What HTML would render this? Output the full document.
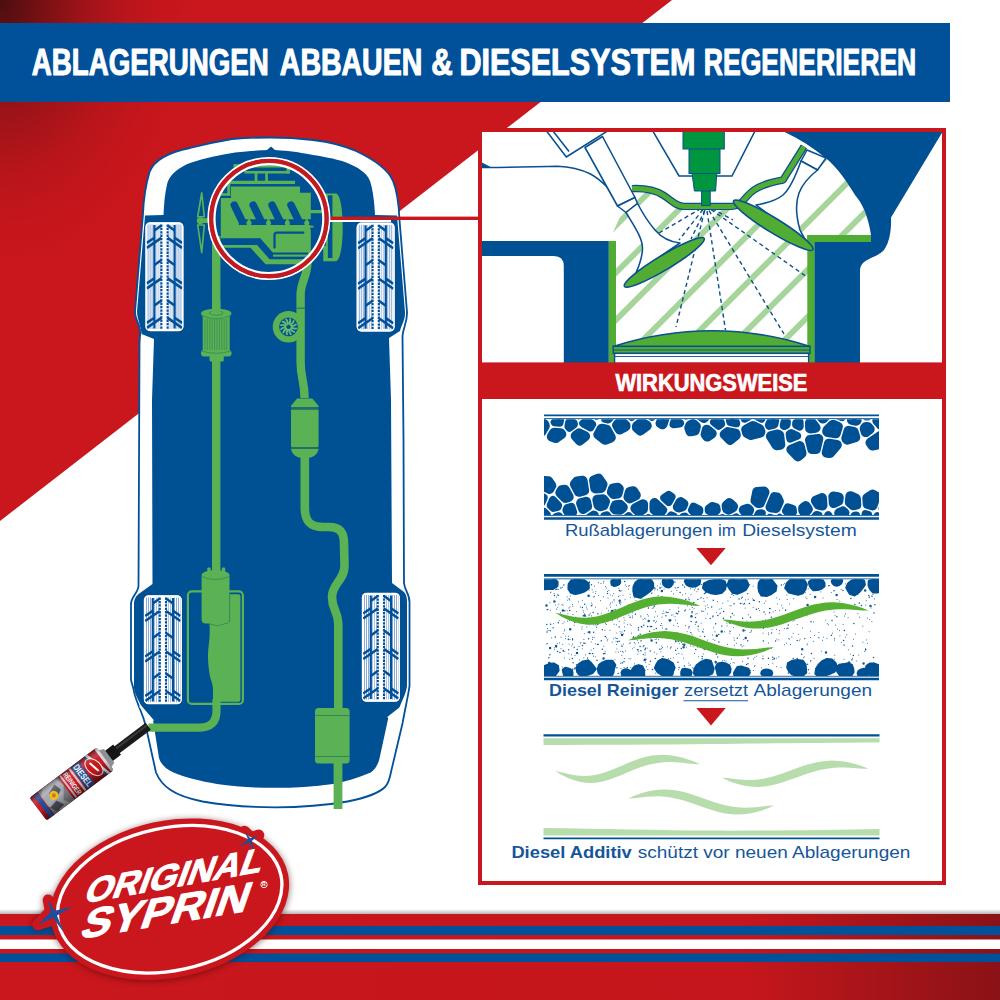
<!DOCTYPE html>
<html lang="de">
<head>
<meta charset="utf-8">
<title>Ablagerungen abbauen &amp; Dieselsystem regenerieren</title>
<style>
html,body{margin:0;padding:0;background:#fff;}
body{width:1000px;height:1000px;overflow:hidden;font-family:"Liberation Sans",sans-serif;}
svg{display:block;}
text{font-family:"Liberation Sans",sans-serif;}
</style>
</head>
<body>
<svg width="1000" height="1000" viewBox="0 0 1000 1000">
<defs>
  <radialGradient id="bgRed" gradientUnits="userSpaceOnUse" cx="0" cy="0" r="270" gradientTransform="scale(0.72,1)">
    <stop offset="0" stop-color="#4c0e0e"/>
    <stop offset="0.2" stop-color="#741013"/>
    <stop offset="0.42" stop-color="#9d1318"/>
    <stop offset="0.65" stop-color="#b9151b"/>
    <stop offset="0.85" stop-color="#c5161c"/>
    <stop offset="1" stop-color="#c9171d"/>
  </radialGradient>
  <linearGradient id="stripeRed" x1="0" y1="0" x2="1" y2="0">
    <stop offset="0" stop-color="#c9171d"/>
    <stop offset="0.75" stop-color="#c4161c"/>
    <stop offset="1" stop-color="#8a1216"/>
  </linearGradient>
  <linearGradient id="stripeShadow" x1="0" y1="0" x2="0" y2="1">
    <stop offset="0" stop-color="#000" stop-opacity="0"/>
    <stop offset="1" stop-color="#000" stop-opacity="0.28"/>
  </linearGradient>
  <pattern id="tyreFine" width="2" height="4" patternUnits="userSpaceOnUse">
    <rect width="2" height="4" fill="#fff"/><rect x="0" width="0.9" height="4" fill="#7aa2d3"/>
  </pattern>
    <clipPath id="engClip"><rect x="482" y="132" width="460" height="231"/></clipPath>
  <clipPath id="hatchClip">
    <path d="M609,241 L633,188.6 C645,188 655,190 663,195 C672,200.5 676,206.4 684,206.4 H732 C742,206.4 745,196 754,190 C762,184.5 772,182 783,180 L804,146.5 C812,147 820,152 825,157.5 C838,168 847,182 855,195 C862,203 868,215 871,235 L871,236 H808 V350 H616 V241 Z"/>
  </clipPath>
  <linearGradient id="canRed" x1="0" y1="0" x2="1" y2="0">
    <stop offset="0" stop-color="#8e1219"/><stop offset="0.25" stop-color="#c8202b"/><stop offset="0.6" stop-color="#c41c27"/><stop offset="1" stop-color="#7d1016"/>
  </linearGradient>
  <linearGradient id="canShade" x1="0" y1="0" x2="1" y2="0">
    <stop offset="0" stop-color="#000" stop-opacity="0.35"/><stop offset="0.22" stop-color="#fff" stop-opacity="0.12"/><stop offset="0.55" stop-color="#000" stop-opacity="0"/><stop offset="1" stop-color="#000" stop-opacity="0.4"/>
  </linearGradient>
  <filter id="softShadow" x="-20%" y="-20%" width="140%" height="140%"><feGaussianBlur stdDeviation="3.5"/></filter>
  <clipPath id="d2clip"><rect x="544" y="579.2" width="335" height="96.7"/></clipPath>
  <clipPath id="d1clip"><rect x="544" y="419.2" width="335" height="95.8"/></clipPath>
  <!--DEFS-->
</defs>

<!-- ===== background ===== -->
<rect width="1000" height="1000" fill="#fff"/>
<polygon points="0,0 672,0 0,521" fill="url(#bgRed)"/>

<!-- ===== header bar ===== -->
<rect x="0" y="23" width="950" height="79" fill="#00509a"/>
<g font-size="36" font-weight="bold" fill="#fff" stroke="#fff" stroke-width="1.1" stroke-linejoin="round">
  <text x="31.8" y="75" textLength="237" lengthAdjust="spacingAndGlyphs">ABLAGERUNGEN</text>
  <text x="279.8" y="75" textLength="142.5" lengthAdjust="spacingAndGlyphs">ABBAUEN</text>
  <text x="431.3" y="75" textLength="21.5" lengthAdjust="spacingAndGlyphs">&amp;</text>
  <text x="459.4" y="75" textLength="236" lengthAdjust="spacingAndGlyphs">DIESELSYSTEM</text>
  <text x="703.8" y="75" textLength="212.5" lengthAdjust="spacingAndGlyphs">REGENERIEREN</text>
</g>

<!-- ===== bottom stripes ===== -->
<g id="stripes">
  <rect x="0" y="909" width="1000" height="5" fill="url(#stripeShadow)"/>
  <rect x="0" y="914" width="1000" height="86" fill="url(#stripeRed)"/>
  <rect x="0" y="926" width="1000" height="9" fill="#00509a"/>
  <rect x="0" y="939.5" width="1000" height="9.5" fill="#fff"/>
  <rect x="0" y="953.5" width="1000" height="8.5" fill="#00509a"/>
</g>

<!-- ===== CAR ===== -->
<g id="car">
  <!-- outer white body with blue outline -->
  <path d="M270,137.5 C290,137.5 302,138.7 313,140 C330,142 345,146 356,151 C375,160 388,169 393,181 C398,193 399,208 399.5,220 L407,312 C407.5,322 403,328 402.5,336 L403.5,440 L404,583 C404.5,590 409.5,594 409.5,602 L409.5,686 C408,697 405,709 402.6,723 L391,772 C389.5,780 388,784 385,787 C378,794 365,798 347.5,801.5 C325,805.5 300,807.3 275,807.3 C250,807.3 225,805.5 202.5,801.5 C188,798.5 178,795 170.6,790 C163,785 159,780 156,772.5 L145.5,725 C143,715 140,710 138,704 C136,699 134,694 133.5,689 L131,680 L131,604 C131,597 138,593 138.5,586 L139.5,345 C139.5,338 140.5,336 140,330 C139,322 135,320 135,312 L143,214 C143.5,200 146,184 149.5,172 C154,160 170,152 190,148 C205,144 220,141 232,139 C245,138 258,137.5 270,137.5 Z" fill="#fff" stroke="#00509a" stroke-width="1.8" stroke-linejoin="round"/>
  <!-- inner blue body -->
  <path d="M271,146.5 L275,150 C290,151 300,152.5 308,154 C322,156.5 335,158.5 345,162 C358,167 367,173 370,181 C373,190 374.5,203 375,215 L397,215.5 L405,312 C405.5,320 401,326 400,331 L389,338 L391,400 L392,583 L404,592 C406,594 407,597 407,602 L407,686 C406,694 402,700 399,709 L388.5,717 L379.6,758 C378,765 375,769.5 370.7,772.5 C358,778 345,781.5 333,784 C314,787 294,787.8 275,787.8 C256,787.8 236,787 217,784 C200,781 185,777.5 173.5,772.5 C167,769.5 161,765 159,758 L153,720 L142.5,708.5 C140,702 135,696 134,688 L134,604 C134,598 137,595 140,593 L152.5,584 L152,400 L154,339 L141.5,334 C141,326 137.5,320 137,312 L145,215.5 L163.5,215 C164,203 165,192 167.5,182.5 C171,173 180,167 190,163 C205,158 220,155 235,152.5 C248,151 260,150.5 267,150 Z" fill="#005094"/>
  <!-- white separators rear arches -->
  <path d="M140,706 L153,721" stroke="#fff" stroke-width="2.4" fill="none"/>
  <path d="M402,707 L388,718" stroke="#fff" stroke-width="2.4" fill="none"/>

  <!-- tyres -->
  <g transform="translate(145.6,222.4)">
    <rect x="0" y="0" width="37.7" height="108.6" rx="4.5" ry="4.5" fill="#fff"/>
    <rect x="1.2" y="2" width="7" height="104.6" fill="url(#tyreFine)"/>
    <rect x="29.5" y="2" width="7" height="104.6" fill="url(#tyreFine)"/>
    <rect x="9.6" y="2" width="6" height="104.6" fill="url(#tyreFine)" opacity="0.7"/>
    <rect x="22.2" y="2" width="6" height="104.6" fill="url(#tyreFine)" opacity="0.7"/>
    <g stroke="#00509a" fill="none">
      <path d="M8.8,2.5 V106 M29,2.5 V106" stroke-width="2.2"/>
      <path d="M15.8,2 V106.6 M22,2 V106.6" stroke-width="2.1" stroke-dasharray="2.3 1.1"/>
      <g stroke-width="2.5">
        <path d="M1.2,25.5 L15.8,15.5 M36.5,25.5 L22,15.5"/>
        <path d="M1.2,20.5 L8.8,15.3 M36.5,20.5 L29,15.3"/>
        <path d="M8.8,42.5 L15.8,37.5 M29,42.5 L22,37.5"/>
        <path d="M1.2,66 L15.8,56 M36.5,66 L22,56"/>
        <path d="M1.2,61 L8.8,55.8 M36.5,61 L29,55.8"/>
        <path d="M8.8,83 L15.8,78 M29,83 L22,78"/>
        <path d="M1.2,105.5 L15.8,95.5 M36.5,105.5 L22,95.5"/>
        <path d="M1.2,100.5 L8.8,95.3 M36.5,100.5 L29,95.3"/>
        <path d="M8.8,8 L15.8,3 M29,8 L22,3" />
      </g>
    </g>
    <rect x="0.4" y="0.4" width="36.9" height="107.8" rx="4.2" ry="4.2" fill="none" stroke="#fff" stroke-width="1.2"/>
  </g>
  <g transform="translate(356.8,222.8)">
    <rect x="0" y="0" width="37.7" height="108.6" rx="4.5" ry="4.5" fill="#fff"/>
    <rect x="1.2" y="2" width="7" height="104.6" fill="url(#tyreFine)"/>
    <rect x="29.5" y="2" width="7" height="104.6" fill="url(#tyreFine)"/>
    <rect x="9.6" y="2" width="6" height="104.6" fill="url(#tyreFine)" opacity="0.7"/>
    <rect x="22.2" y="2" width="6" height="104.6" fill="url(#tyreFine)" opacity="0.7"/>
    <g stroke="#00509a" fill="none">
      <path d="M8.8,2.5 V106 M29,2.5 V106" stroke-width="2.2"/>
      <path d="M15.8,2 V106.6 M22,2 V106.6" stroke-width="2.1" stroke-dasharray="2.3 1.1"/>
      <g stroke-width="2.5">
        <path d="M1.2,25.5 L15.8,15.5 M36.5,25.5 L22,15.5"/>
        <path d="M1.2,20.5 L8.8,15.3 M36.5,20.5 L29,15.3"/>
        <path d="M8.8,42.5 L15.8,37.5 M29,42.5 L22,37.5"/>
        <path d="M1.2,66 L15.8,56 M36.5,66 L22,56"/>
        <path d="M1.2,61 L8.8,55.8 M36.5,61 L29,55.8"/>
        <path d="M8.8,83 L15.8,78 M29,83 L22,78"/>
        <path d="M1.2,105.5 L15.8,95.5 M36.5,105.5 L22,95.5"/>
        <path d="M1.2,100.5 L8.8,95.3 M36.5,100.5 L29,95.3"/>
        <path d="M8.8,8 L15.8,3 M29,8 L22,3" />
      </g>
    </g>
    <rect x="0.4" y="0.4" width="36.9" height="107.8" rx="4.2" ry="4.2" fill="none" stroke="#fff" stroke-width="1.2"/>
  </g>
  <g transform="translate(144,595.5)">
    <rect x="0" y="0" width="37.7" height="108.6" rx="4.5" ry="4.5" fill="#fff"/>
    <rect x="1.2" y="2" width="7" height="104.6" fill="url(#tyreFine)"/>
    <rect x="29.5" y="2" width="7" height="104.6" fill="url(#tyreFine)"/>
    <rect x="9.6" y="2" width="6" height="104.6" fill="url(#tyreFine)" opacity="0.7"/>
    <rect x="22.2" y="2" width="6" height="104.6" fill="url(#tyreFine)" opacity="0.7"/>
    <g stroke="#00509a" fill="none">
      <path d="M8.8,2.5 V106 M29,2.5 V106" stroke-width="2.2"/>
      <path d="M15.8,2 V106.6 M22,2 V106.6" stroke-width="2.1" stroke-dasharray="2.3 1.1"/>
      <g stroke-width="2.5">
        <path d="M1.2,25.5 L15.8,15.5 M36.5,25.5 L22,15.5"/>
        <path d="M1.2,20.5 L8.8,15.3 M36.5,20.5 L29,15.3"/>
        <path d="M8.8,42.5 L15.8,37.5 M29,42.5 L22,37.5"/>
        <path d="M1.2,66 L15.8,56 M36.5,66 L22,56"/>
        <path d="M1.2,61 L8.8,55.8 M36.5,61 L29,55.8"/>
        <path d="M8.8,83 L15.8,78 M29,83 L22,78"/>
        <path d="M1.2,105.5 L15.8,95.5 M36.5,105.5 L22,95.5"/>
        <path d="M1.2,100.5 L8.8,95.3 M36.5,100.5 L29,95.3"/>
        <path d="M8.8,8 L15.8,3 M29,8 L22,3" />
      </g>
    </g>
    <rect x="0.4" y="0.4" width="36.9" height="107.8" rx="4.2" ry="4.2" fill="none" stroke="#fff" stroke-width="1.2"/>
  </g>
  <g transform="translate(362,593)">
    <rect x="0" y="0" width="37.7" height="108.6" rx="4.5" ry="4.5" fill="#fff"/>
    <rect x="1.2" y="2" width="7" height="104.6" fill="url(#tyreFine)"/>
    <rect x="29.5" y="2" width="7" height="104.6" fill="url(#tyreFine)"/>
    <rect x="9.6" y="2" width="6" height="104.6" fill="url(#tyreFine)" opacity="0.7"/>
    <rect x="22.2" y="2" width="6" height="104.6" fill="url(#tyreFine)" opacity="0.7"/>
    <g stroke="#00509a" fill="none">
      <path d="M8.8,2.5 V106 M29,2.5 V106" stroke-width="2.2"/>
      <path d="M15.8,2 V106.6 M22,2 V106.6" stroke-width="2.1" stroke-dasharray="2.3 1.1"/>
      <g stroke-width="2.5">
        <path d="M1.2,25.5 L15.8,15.5 M36.5,25.5 L22,15.5"/>
        <path d="M1.2,20.5 L8.8,15.3 M36.5,20.5 L29,15.3"/>
        <path d="M8.8,42.5 L15.8,37.5 M29,42.5 L22,37.5"/>
        <path d="M1.2,66 L15.8,56 M36.5,66 L22,56"/>
        <path d="M1.2,61 L8.8,55.8 M36.5,61 L29,55.8"/>
        <path d="M8.8,83 L15.8,78 M29,83 L22,78"/>
        <path d="M1.2,105.5 L15.8,95.5 M36.5,105.5 L22,95.5"/>
        <path d="M1.2,100.5 L8.8,95.3 M36.5,100.5 L29,95.3"/>
        <path d="M8.8,8 L15.8,3 M29,8 L22,3" />
      </g>
    </g>
    <rect x="0.4" y="0.4" width="36.9" height="107.8" rx="4.2" ry="4.2" fill="none" stroke="#fff" stroke-width="1.2"/>
  </g>
  <!-- ===== green systems ===== -->
  <g id="systems" fill="#5ab254" stroke="none">
    <!-- fuel line -->
    <rect x="212" y="236" width="8.4" height="338"/>
    <!-- fuel filter -->
    <rect x="209.5" y="355" width="14.3" height="6.5" rx="1.5"/>
    <rect x="201" y="350" width="30.5" height="6.5" rx="3"/>
    <rect x="202.7" y="314" width="27" height="38"/>
    <g stroke="#3f8f52" stroke-width="0.9">
      <path d="M205,319V350 M207.4,319V350 M209.8,319V350 M212.2,319V350 M214.6,319V350 M217,319V350 M219.4,319V350 M221.8,319V350 M224.2,319V350 M226.6,319V350"/>
    </g>
    <ellipse cx="216.2" cy="313.5" rx="15.2" ry="4.8"/>
    <ellipse cx="216.2" cy="313" rx="6.8" ry="2.2" fill="none" stroke="#2f8a55" stroke-width="0.8"/>
    <path d="M201.3,315.5 Q216,322 231.2,315.5" fill="none" stroke="#2f8a55" stroke-width="0.8"/>
    <path d="M201.5,351 Q216,355.5 231,351" fill="none" stroke="#2f8a55" stroke-width="0.8"/>
    <rect x="212" y="300" width="8.4" height="14"/>

    <!-- exhaust: engine to cat -->
    <path d="M307.5,258 C308.5,276 301,280 300.6,294 L300.6,362 C300.6,378 304.5,381 304.6,398" fill="none" stroke="#5ab254" stroke-width="8.4"/>
    <!-- turbo -->
    
    <circle cx="288.5" cy="326.8" r="15.8"/>
    <circle cx="288.5" cy="326.8" r="9.4" fill="#005094"/>
    <g transform="translate(288.5,326.8)" fill="none" stroke="#6fbf6a" stroke-width="1.7" stroke-linecap="round"><path d="M0,-2.9 Q2.6,-4.6 1.6,-7.7" transform="rotate(0)"/><path d="M0,-2.9 Q2.6,-4.6 1.6,-7.7" transform="rotate(30)"/><path d="M0,-2.9 Q2.6,-4.6 1.6,-7.7" transform="rotate(60)"/><path d="M0,-2.9 Q2.6,-4.6 1.6,-7.7" transform="rotate(90)"/><path d="M0,-2.9 Q2.6,-4.6 1.6,-7.7" transform="rotate(120)"/><path d="M0,-2.9 Q2.6,-4.6 1.6,-7.7" transform="rotate(150)"/><path d="M0,-2.9 Q2.6,-4.6 1.6,-7.7" transform="rotate(180)"/><path d="M0,-2.9 Q2.6,-4.6 1.6,-7.7" transform="rotate(210)"/><path d="M0,-2.9 Q2.6,-4.6 1.6,-7.7" transform="rotate(240)"/><path d="M0,-2.9 Q2.6,-4.6 1.6,-7.7" transform="rotate(270)"/><path d="M0,-2.9 Q2.6,-4.6 1.6,-7.7" transform="rotate(300)"/><path d="M0,-2.9 Q2.6,-4.6 1.6,-7.7" transform="rotate(330)"/></g>
    <path d="M296.6,308.2 H304.7" stroke="#005094" stroke-width="0.8"/>
    <!-- catalytic converter -->
    <path d="M297.5,399.2 H312 L317.8,406.2 H291.7 Z" stroke="#5ab254" stroke-width="1.6" stroke-linejoin="round"/>
    <rect x="291" y="409.4" width="27.6" height="37.6" rx="1.2"/><path d="M291,408.2H318.6 M291,448H318.6" stroke="#1f6f6a" stroke-width="2.2"/>
    <path d="M291,449 H318.6 Q317.5,455 311,457.6 H298.6 Q292,455 291,449 Z"/>
    <!-- exhaust mid pipe -->
    <path d="M304.8,455 L304.8,508 C304.8,522 311,527 323,527 L329,527 C339,527 344,532 344,543 L344.5,566 C344.5,580 332,584 332,597 C332,610 338.3,611 338.3,624 L338.3,710" fill="none" stroke="#5ab254" stroke-width="8.6"/>
    <!-- muffler -->
    <rect x="315" y="708" width="34.6" height="55.5" rx="3.5"/>
    <path d="M315.3,715.5 H349.3 M315.3,756.5 H349.3" stroke="#2f7f5e" stroke-width="0.9"/>
    <rect x="333.6" y="762" width="8.8" height="47"/>

    <!-- tank -->
    <rect x="187.9" y="591.4" width="55" height="112.5" rx="4" fill="none" stroke="#5ab254" stroke-width="2.2"/>
    <path d="M229.5,594.2 H238.5 Q240.4,594.2 240.4,596 V699.5 Q240.4,701.8 238.5,701.8 H213 V690 C213,683 210.5,680 209.7,675 C208.5,667 207.7,660 208,653.5 C208.4,646 209.7,640 209.7,632 L209.7,622 H229.5 Z"/>
    <!-- pump -->
    <rect x="213" y="560" width="6.8" height="14"/>
    <rect x="207.3" y="567.5" width="3.4" height="6" rx="1"/>
    <rect x="221.8" y="567.5" width="3.4" height="6" rx="1"/>
    <path d="M201.6,575 C201.6,568.5 229.5,568.5 229.5,575 L229.5,619.5 Q229.5,623.5 225.5,623.5 H205.6 Q201.6,623.5 201.6,619.5 Z"/><path d="M229.6,594 V619.5 Q229.5,623.6 225.5,623.6 H205.6" fill="none" stroke="#2f8a55" stroke-width="0.8"/>
    <path d="M201.8,576.5 Q215.5,582.5 229.3,576.5" fill="none" stroke="#2f8a55" stroke-width="0.8"/>
    <path d="M209.7,622 H224 V626 Q224,630 217,630 Q209.7,630 209.7,626 Z"/>
    <path d="M210,624.2 Q217,627.2 223.8,624.2" fill="none" stroke="#2f8a55" stroke-width="0.8"/>
    <!-- filler hose -->
    <path d="M216.5,699 L216.5,711 C216.5,722.5 210,727.6 200,727.6 L148.5,727.6" fill="none" stroke="#5ab254" stroke-width="8.2"/>
  </g>

  <!-- ===== engine (drawn in 150px -> 1000 zoom coords) ===== -->
  <g id="engine" transform="translate(195,150) scale(0.15)">
    <g fill="#5ab254">
      <!-- fan -->
      <path d="M45,285 L18,445 L62,445 Z M45,685 L18,500 L62,500 Z" fill="none" stroke="#5ab254" stroke-width="11" stroke-linejoin="round"/>
      <circle cx="35" cy="471" r="23"/>
      <rect x="35" y="455" width="90" height="32"/>
      <!-- top pipes -->
      <rect x="258" y="95" width="374" height="22"/>
      <rect x="258" y="95" width="20" height="32"/>
      <rect x="610" y="95" width="22" height="62"/>
      <rect x="330" y="140" width="300" height="17"/>
      <rect x="398" y="150" width="18" height="65"/>
      <rect x="468" y="150" width="18" height="65"/>
      <rect x="215" y="205" width="452" height="22"/>
      <rect x="215" y="205" width="20" height="100"/>
      <rect x="172" y="288" width="63" height="17"/>
      <!-- block -->
      <path d="M172,320 H240 V243 H700 V285 H772 V400 H870 V422 H772 V762 H470 L370,652 H172 Z"/>
      <!-- alternator -->
      <path d="M855,290 H940 C1000,300 1000,730 940,742 H855 V640 H872 V400 H855 Z"/>
    </g>
    <g fill="#005094" stroke="#005094">
      <rect x="886" y="302" width="30" height="418" stroke="none"/>
      <g stroke-width="50" stroke-linecap="round" fill="none">
        <path d="M262,368 L312,470"/><path d="M388,368 L438,470"/><path d="M514,368 L564,470"/><path d="M640,368 L690,470"/>
      </g>
      <rect x="292" y="462" width="500" height="38" stroke="none"/>
      <rect x="770" y="480" width="22" height="52" stroke="none"/>
      <path d="M530,650 V566 Q530,550 546,550 H722" fill="none" stroke-width="15" stroke-linecap="round"/>
      <path d="M172,611 L425,611 L508,706 L755,706" fill="none" stroke-width="46" stroke-linejoin="miter"/>
    </g>
    <g fill="#5ab254">
      <circle cx="360" cy="487" r="17"/><circle cx="490" cy="487" r="17"/><circle cx="616" cy="487" r="17"/><circle cx="745" cy="487" r="17"/>
      <rect x="352" y="462" width="16" height="20"/><rect x="482" y="462" width="16" height="20"/><rect x="608" y="462" width="16" height="20"/><rect x="737" y="462" width="16" height="20"/>
      <rect x="760" y="505" width="30" height="12"/>
      <rect x="520" y="697" width="240" height="14"/>
    </g>
  </g>

  <!-- highlight circle + connector -->
  <g fill="none">
    <rect x="329" y="216.6" width="152" height="3.4" fill="#c9171d"/>
    <rect x="329" y="220" width="62" height="2" fill="#fff"/>
    <circle cx="268.9" cy="218.6" r="60.6" stroke="#fff" stroke-width="1.8"/>
    <circle cx="268.9" cy="218.6" r="57.6" stroke="#c9171d" stroke-width="4.3"/>
    <circle cx="268.9" cy="218.6" r="54.4" stroke="#fff" stroke-width="2.2"/>
  </g>
  <!--CARPARTS-->
</g>


<!-- ===== RIGHT PANEL ===== -->
<g id="panel">
  <rect x="478" y="128" width="468" height="757" fill="#c9171d"/>
  <rect x="482" y="132" width="460" height="749" fill="#fff"/>
  <g clip-path="url(#engClip)">
    <!-- hatching -->
    <g clip-path="url(#hatchClip)" stroke="#a6d59c" stroke-width="5.8" fill="none">
      <path d="M441.4,400 L741.4,100 M488.6,400 L788.6,100 M535.8,400 L835.8,100 M583,400 L883,100 M630.2,400 L930.2,100 M677.4,400 L977.4,100 M724.6,400 L1024.6,100 M771.8,400 L1071.8,100 M819,400 L1119,100"/>
    </g>
    <!-- cylinder walls -->
    <rect x="608.5" y="241" width="7.5" height="122" fill="#50ac32"/>
    <rect x="807.3" y="235" width="7.5" height="128" fill="#50ac32"/>
    <rect x="807.3" y="235" width="64" height="7.2" fill="#50ac32"/>
    <!-- spray -->
    <g stroke="#0a4f8f" stroke-width="1.4" fill="none" stroke-dasharray="4.2 3.2">
      <path d="M701,208.5 L659,233"/>
      <path d="M703,209.5 L679,240"/>
      <path d="M705,210 L691,239"/>
      <path d="M704.5,211 L676,327"/>
      <path d="M707,211 L725.5,330"/>
      <path d="M709,210.5 L784,334"/>
      <path d="M711,209.5 L807,277"/>
      <path d="M712,208.5 L733,220"/>
    </g>
    <!-- piston -->
    <path d="M613.2,346.4 Q712,315 810,346.4 Z" fill="#50ac32" stroke="#0a4f8f" stroke-width="1.55" stroke-linejoin="round"/>
    <rect x="613.2" y="346.4" width="196.8" height="7" fill="#50ac32" stroke="#0a4f8f" stroke-width="1.4"/>
    <path d="M613.2,350 H810" stroke="#0a4f8f" stroke-width="0.9"/>
    <rect x="614.6" y="353.4" width="194" height="10" fill="#fff" stroke="#0a4f8f" stroke-width="1.4"/>
    <path d="M614.6,356.5 H808.6" stroke="#0a4f8f" stroke-width="0.9"/>
    <!-- chamber roof -->
    <g fill="none" stroke-linecap="butt" stroke-linejoin="round">
      <path id="roofL" d="M632,188.6 C645,188 655,190 663,195 C672,200.5 676,206.4 684,206.4 H732 C742,206.4 745,196 754,190 C762,184.5 772,182 783,180 L804,146.5" stroke="#0a4f8f" stroke-width="7.4"/>
      <path d="M632,188.6 C645,188 655,190 663,195 C672,200.5 676,206.4 684,206.4 H732 C742,206.4 745,196 754,190 C762,184.5 772,182 783,180 L804,146.5" stroke="#50ac32" stroke-width="5"/>
    </g>
    <!-- injector holder -->
    <path d="M652.8,131 L679,176 H732 L755,131 Z" fill="#fff" stroke="#0a4f8f" stroke-width="1.55"/>
    <!-- injector -->
    <g fill="#009640" stroke="#0a4f8f" stroke-width="1">
      <rect x="701.6" y="190" width="8.6" height="15.6"/>
      <path d="M692,173 H716.8 L715.6,191 H694.4 Z"/>
      <rect x="689" y="148.5" width="31" height="25"/>
      <rect x="683" y="130" width="41.3" height="19"/>
    </g>
    <!-- intake port outline -->
    <path d="M482,167.4 C510,167.6 535,166.6 557.5,166.3 C572,167 582,170 590,173.8 C597,177.5 602,182 606.3,186.3 C611,192 614,198 617.5,205" fill="none" stroke="#0a4f8f" stroke-width="1.55"/>
    <path d="M482,162.5 L491.5,167.5 L482,167.8 Z" fill="#005094"/>
    <!-- left valve: spring box, stem, collar, tulip, disc -->
    <g fill="#fff" stroke="#0a4f8f" stroke-width="1.55" stroke-linejoin="round">
      <path d="M546.5,131 L566.3,157 L607.5,131"/>
      <path d="M553,131 L569,151.5" fill="none"/>
      <path d="M585,147.5 L602.5,136.5 L635,197.5 L617.5,206 Z"/>
      <path d="M617.5,206 L635,197.5 L637.5,203.5 L626,212.5 Z"/>
      <path d="M626,212.5 C634,226 642.5,238 642.5,248 C642.5,258 639,266 636,273 L680,243 C670,242 661,237 655,230 C648,222 642,212 637.5,203.5 Z"/>
      <ellipse cx="664.3" cy="262.4" rx="46.5" ry="7.3" transform="rotate(-31 664.3 262.4)" fill="#50ac32" stroke-width="1.6"/>
    </g>
    <!-- right valve -->
    <g fill="#fff" stroke="#0a4f8f" stroke-width="1.55" stroke-linejoin="round">
      <path d="M801,161 L817.5,170 L826,158 L807,150 Z"/>
      <path d="M756,205 C768,203 777,200 783,195 C790,189 796,175 801,161 L817.5,170 C810,176 802,185 799,193 C795,204 796,216 800,230 C803,237 806,241 810,245 Z"/>
      <ellipse cx="773.2" cy="225.2" rx="46.5" ry="7.3" transform="rotate(31.6 773.2 225.2)" fill="#50ac32" stroke-width="1.6"/>
    </g>
    <!-- blue solids -->
    <path d="M482,241 H608.7 V363 H563.8 V266 Q563.8,256 553.8,256 H482 Z" fill="#005094"/>
    <path d="M782.5,131 H943 L891,217.5 C891.5,228 890,242 884,250 C879,256 868,258 863,263 C860.5,266 860,268 860,271 V363 H814.6 V242 H871 V235 C868,215 862,203 855,195 C847,182 838,168 825,157.5 C812,147 798,138 782.5,131 Z" fill="#005094"/>
  </g>
  <!-- red band -->
  <rect x="482" y="362.4" width="460" height="36.6" fill="#c9171d"/>
  <text x="615.4" y="391" font-size="24.4" font-weight="bold" fill="#fff" stroke="#fff" stroke-width="0.7" textLength="192" lengthAdjust="spacingAndGlyphs">WIRKUNGSWEISE</text>
  <!--P2START-->
  <!-- diagram 1 -->
  <g id="dia1">
    <path d="M544,415.4H879" stroke="#005094" stroke-width="1.9"/>
    <path d="M544,418.6H879" stroke="#005094" stroke-width="0.9"/>
    <path d="M544,515.6H879" stroke="#005094" stroke-width="0.9"/>
    <path d="M544,518.4H879" stroke="#005094" stroke-width="2.5"/>
    <g clip-path="url(#d1clip)" fill="#005094" stroke="#005094" stroke-linejoin="round"><path d="M887,416.5 887,411 884.5,411ZM536,518.4 536,523.2 538,523.2Z" stroke-width="2.6"/><path d="M583.3,412.8 577.8,412.7 577.5,415.3 578.6,416.3ZM790.6,414.3 792.2,415.4 795.5,413.9 795.4,412.7 790.8,412.7ZM803,414 804.5,415 809.4,412.7 802.8,412.7ZM565.3,412.7 566.6,414.2 570.2,413.6 570.4,412.7ZM622,414 622,412.7 617.9,412.7 618.4,414.1ZM779.7,412.7 781.2,413.9 783.3,413.2 783.3,412.7ZM721.1,412.7 723.7,414.1 724.7,412.7ZM779.8,521.5 785.9,521.5 779.7,516.7ZM795,521.5 803,521.5 798.2,518.9ZM772.2,517.3 769.7,516.7 768.4,521.5 772.4,521.5ZM618.7,519.1 615.9,519 615.4,521.5 619,521.5Z" stroke-width="6.0"/><path d="M590.5,427.4 592.2,424.4 587.1,420.4 583.2,423.4ZM841.8,417.2 843.3,413.7 835.8,413.7 836,414.7ZM866.3,416.6 867.7,416.6 869.5,413.7 865.2,413.7ZM673.5,424.2 679.9,423.5 680.1,423.1 675,419.6ZM763.8,413.7 757.8,413.7 757.7,416.7 761.5,418.6ZM605.2,418.8 608.3,419.5 610.5,416.9 609.3,413.7 606.5,413.7ZM744.6,418.7 748.3,416.8 748.4,413.7 743,413.7ZM784.4,426.1 786.6,424.9 786.9,421.9 785.9,421.2 784.5,421.7 783.7,425.8ZM720.6,422 715.7,419.3 714,422.1 718.7,425.8 721.1,424.1ZM554.7,422.3 559.6,422.7 560.1,419.6 559.1,418.4ZM799.6,421.8 799.1,421.5 796.2,422.8 796.1,424.9 799.7,426.6ZM769.2,425.9 774.4,424.6 775.3,419.9 772.4,417.5 768.9,425ZM635.8,413.7 630.4,413.7 630.4,415.7 631.7,417ZM683,413.7 686.1,415.8 689,414.3 689.1,413.7ZM593.8,413.7 596.3,415.7 596.8,413.7ZM733.5,414.9 729.8,420 730.3,422 736.2,423.3ZM647.3,413.7 652,416.8 653.3,413.7ZM573.8,423.3 572.1,421.8 569.2,422.3 568.4,426.5 569.4,427.7 573.9,424.5ZM547.3,413.7 548.9,414.9 550.3,413.7ZM790.3,438.6 797.1,435.8 791.3,433.1 789.6,434ZM755.5,520.5 759.9,520.5 761.8,513.3 759.1,513.4ZM667.1,520.5 674.4,520.5 673.9,516.7 671.2,515.4ZM693.5,506.7 691.9,510.2 696.2,514.7 699.3,511.5 699.3,509.5ZM668.7,494.9 664.2,497.8 668.7,502 671.6,496.8ZM856.1,515.4 854.6,515.6 852.2,520.5 856.3,520.5ZM733.9,520.5 738.7,520.5 736.3,517.3 733.7,518.7ZM540.8,512.5 544.2,520.5 545.2,520.5 546.8,514.7 543.7,511.7ZM567.1,508.2 566.4,510.3 569.4,515.2 573.2,512.2 571.4,506.9ZM719.4,520.5 724.5,520.5 724.3,519.1 722.4,518.1ZM828.2,515.1 826.8,520.5 831.5,520.5ZM604.2,516 603.9,520.5 607,520.5 607.9,516.5 606.6,515.2ZM703.6,520.5 707.4,520.5 704.9,519.2ZM627,517.6 627.3,520.5 633,520.5 628.6,516.2ZM812,520.5 817.2,520.5 818.4,515.3 816.6,514.9ZM877.4,516.3 876.7,520.5 881.4,520.5 881.2,518.8ZM538.7,503.3 541.6,502.5 543.7,497.6 538.7,495.4ZM644.4,520.5 651.5,520.5 648.4,518ZM555,520.5 561.6,520.5 559,516.2 555.9,517.1ZM594.8,515.1 593.7,514.5 589.5,517.3 590.5,520.5 594.4,520.5ZM884.3,503.7 882.6,508.4 884.3,509.6ZM688.7,520.5 684.9,516.5 683.4,516.9 683.8,520.5ZM708.7,508.7 708.7,510.6 713.6,513.1 716.8,510.4 716.3,507.1 712,506ZM865.5,514.2 865.7,520.5 867.2,520.5 868.1,514.9ZM786,511 790.4,514.4 793,512.3 792.7,508.8 787.8,507.3ZM577.8,520.5 580.6,520.5 579.7,519ZM553,499.9 550.7,505.3 553.4,508 557.6,506.9 558.1,505.4Z" stroke-width="8.0"/><path d="M601.6,428.7 598.4,434.6 605.1,439.8 610.8,437.5 606.5,429.7ZM810.1,428.5 815.6,427.8 811.2,422.2 810,422.8ZM847.1,439.6 855.3,437.3 853.8,432 848.5,430.8 846.3,438.5ZM770.9,436.2 776.5,445.2 780.3,444.7 779.2,435.1 777.8,434.4ZM826.7,452.7 830,452.9 836.8,444.9 828.9,443.7ZM541.1,431.1 541.7,431.3 544.8,426 544.3,424.3 540.1,421.4 539.7,428.4ZM724.7,434.4 730,439.9 735.8,435.1 735.5,433.7 727.7,432.1ZM791.4,449.5 798.1,456.4 801.5,453.3 799.7,446ZM641.6,422.4 637,426.1 636.9,427.7 640.4,430.5 646.8,425.8ZM707.3,436.6 711.7,433.6 706.8,429.7 705.6,434.4ZM872.5,445.5 876.1,444.8 879.8,436.3 870.5,442.7ZM699.4,414.7 703.9,418.1 706.3,414.7ZM879.1,417.8 877.4,420.7 881.1,424.9 881.7,423.5ZM827.2,431.4 827.6,432 835.9,433.2 837.8,426.8 832.9,424.7 827.5,430ZM660.6,423.2 662.5,424.3 665.7,414.7 664.2,414.7ZM746.2,429.6 747.1,433.1 751,435 760.1,432.6 760.4,431.7 759.3,429 753,426ZM819.8,414.7 822.9,418.6 825.6,415.9 825.4,414.7ZM617.1,425.2 619.6,429.4 625.5,426.6 625.6,425.6 623.3,423.4 618.5,423.5ZM575.7,435.9 579.7,440.4 585.1,436.3 579.2,433.4ZM810,440 812.2,449.1 815.9,449 818.3,438.9ZM551.8,436.6 555.7,438 561.3,434.2 560.5,433.2 554,432.7ZM851.9,419.9 856.2,420.8 856.6,420.4 854.5,414.7ZM690.5,431.3 694.8,430.6 695.9,426.4 692.9,424 690.3,425.4 689.3,427.9ZM865.7,432.1 869.7,429.2 867.8,427 865.8,427 864.7,428.5ZM541.8,480.9 540.5,484.9 549.6,488.8 551.3,485.5 548.4,481.3ZM635.4,508.3 638.9,511.7 643,509.1 643.1,504.3ZM611.9,492 613.8,494.1 617.6,493.6 618.8,488.8 617.9,487.8 613,488.5ZM850.4,496.2 849.8,502.3 853.2,505.3 856.3,504.7 855.9,498.6ZM677.8,507 678.8,507.4 682.2,506.4 683.3,503.9 680.6,502.1ZM770.5,507.2 775.9,508.1 778.9,501.5 777.1,497.5 774.7,497.1ZM584.1,490.4 582.6,480.8 577.1,481.5 574.9,484.2 578.9,491.8ZM833.3,496.5 833.8,503.1 838.4,500.8 838.8,497.5ZM598.5,478.5 594.1,480.4 595.3,488.4 601.2,487.9 602.5,484.3ZM764.1,491.5 757.2,492 755.5,500.5 758.3,503 759.9,503 764.5,492ZM597.3,499.7 598.5,505.2 600.3,506.3 603.6,505.2 605,501.4 603.1,499.2ZM803.1,508 803.3,511 805.4,512.1 807.8,509.2 805.8,506.1ZM867.7,504 872.6,505.3 875.9,496.3 872.7,494.6 867.3,497.9ZM839.2,513.1 842,517.7 844.4,512.8 842.8,511.4ZM654.5,503.1 654.4,509.5 659.4,513.5 662.1,510.1ZM581.1,503.1 583.1,509 587.1,506.4 586.1,501.7ZM564.9,489.8 561.7,490.3 560.4,492.7 565.3,497.9 568.7,496.9ZM614.6,508.5 615.6,509.6 620.1,509.8 622.8,507.4 620.1,504.8 615.7,505.3ZM743.8,510 747,514.2 749.1,510.1 747.7,508.7ZM732.7,507.4 733,506.5 729.4,503.1 726.6,505.5 727.1,508.8 728.6,509.7ZM629.8,498.4 635.8,495.3 633.2,491.2 629.8,491.9 628.5,497ZM815.9,500.6 818.4,504.6 822.5,505.5 822,498.1Z" stroke-width="10.0"/></g>
    <g font-size="16.6" fill="#15569b"><text x="565" y="535.8" textLength="147.5" lengthAdjust="spacingAndGlyphs">Rußablagerungen</text><text x="718" y="535.8" textLength="18" lengthAdjust="spacingAndGlyphs">im</text><text x="742.2" y="535.8" textLength="114.5" lengthAdjust="spacingAndGlyphs">Dieselsystem</text></g>
    <path d="M696.3,548 H725.7 L711,565.2 Z" fill="#c9171d"/>
  </g>
  <!-- diagram 2 -->
  <g id="dia2">
    <path d="M544,575.4H879" stroke="#005094" stroke-width="2.6"/>
    <path d="M544,578.8H879" stroke="#005094" stroke-width="0.8"/>
    <path d="M544,676.3H879" stroke="#005094" stroke-width="0.8"/>
    <path d="M544,679H879" stroke="#005094" stroke-width="2.6"/>
    <g stroke="#11579b" stroke-linecap="round" fill="none"><path d="M649.2,664.4h0M620.6,604.2h0M637.3,582.7h0M571.4,654.8h0M644.2,593.2h0M684.6,600.8h0M702.2,661.8h0M698.9,631.1h0M578.6,668.1h0M699.7,663.7h0M603.4,596.8h0M556.4,609.2h0M546.5,643.9h0M595.3,656.8h0M596.2,625.8h0M555.1,671.2h0M665.2,659.2h0M671.3,615.2h0M547.4,585.8h0M693.8,668.2h0M560.5,612.8h0M632.7,610.2h0M574.2,588.7h0M655.6,673.2h0M553.7,672.3h0M610.5,603.3h0M677.4,623.4h0M554.9,665.8h0M624.5,658.6h0M662.3,668.9h0M671.3,591.3h0M569.7,659.2h0M701.2,623.2h0M662.0,625.6h0M610.2,595.0h0M703.2,669.8h0M625.4,612.6h0M603.8,646.3h0M623.2,652.3h0M592.7,668.5h0M638.3,582.6h0M585.9,643.3h0M698.1,629.2h0M621.9,645.1h0M638.4,642.7h0M645.2,652.8h0M660.5,584.0h0M616.1,641.3h0M655.1,639.5h0M621.0,602.3h0M567.2,610.7h0M576.7,584.8h0M606.5,637.8h0M583.8,664.6h0M610.5,607.1h0M564.3,658.0h0M551.7,637.9h0M632.7,612.7h0M698.4,656.8h0M675.3,640.6h0M568.6,636.3h0M698.2,670.6h0M601.8,663.7h0M563.2,633.6h0M605.8,621.2h0M592.3,671.0h0M698.8,665.6h0M587.3,671.8h0M624.2,607.8h0M565.4,638.7h0M548.1,630.5h0M694.7,653.4h0M592.6,637.4h0M564.8,651.5h0M630.8,612.4h0M630.2,624.2h0M664.5,635.9h0M687.2,631.7h0M669.8,620.9h0M658.6,639.7h0M691.0,617.0h0M681.5,599.6h0M656.4,621.3h0M670.1,665.3h0M622.1,632.0h0M598.6,595.6h0M675.1,587.8h0M676.3,654.3h0M704.7,646.0h0M679.9,601.7h0M697.4,647.0h0M592.5,666.0h0M643.1,619.6h0M645.0,585.5h0M606.3,588.1h0M567.4,621.2h0M605.5,586.6h0M570.0,639.6h0M690.8,632.5h0M587.9,632.3h0M665.3,629.1h0M574.5,647.1h0M559.6,643.0h0M565.8,636.1h0M685.4,625.7h0M654.3,602.0h0M568.2,639.0h0M583.4,612.2h0M601.4,617.0h0M614.9,659.8h0M608.9,590.4h0M622.5,651.5h0M620.8,663.4h0M614.2,624.3h0M570.6,596.1h0M607.3,662.5h0M586.4,607.0h0M591.6,603.1h0M551.1,666.6h0M695.1,644.8h0M621.0,668.5h0M652.3,608.3h0M662.0,596.5h0M550.0,602.7h0M609.8,671.1h0M595.6,624.6h0M662.4,647.5h0M611.2,585.6h0M703.3,629.2h0M624.1,667.6h0M584.7,586.1h0M555.6,605.0h0M594.6,586.2h0M700.5,598.0h0M610.0,630.4h0M595.9,591.4h0M580.1,583.1h0M623.4,634.1h0M581.6,592.1h0M595.7,593.4h0M584.9,589.3h0M637.7,604.1h0M657.4,585.9h0M591.5,615.9h0M634.4,663.9h0M666.8,634.4h0M661.8,646.0h0M675.1,616.7h0M556.5,597.1h0M653.5,607.8h0M667.4,632.8h0M554.1,593.5h0M682.7,668.8h0M582.7,621.0h0M598.5,582.6h0M677.5,648.4h0M630.3,597.2h0M619.3,621.4h0M668.0,667.6h0M700.2,636.3h0M675.5,620.1h0M701.5,584.5h0M622.6,662.6h0M580.3,607.0h0M584.4,613.9h0M644.3,618.4h0M678.2,626.6h0M573.0,590.6h0M645.1,655.1h0M547.6,628.6h0M575.4,617.3h0M550.3,610.2h0M621.7,646.2h0M656.2,643.2h0M673.0,614.9h0M654.0,629.5h0M558.4,589.5h0M638.3,651.4h0M594.8,667.0h0M643.1,600.7h0M632.5,617.7h0M608.0,597.9h0M689.0,665.2h0M607.5,591.5h0M634.0,647.3h0M687.0,601.1h0M581.7,587.3h0M612.3,620.6h0M689.9,609.3h0M642.3,670.4h0M550.8,592.1h0M641.9,598.4h0M640.5,641.0h0M661.9,587.1h0M678.7,669.6h0M621.8,590.8h0M570.9,590.0h0M645.4,670.3h0M562.4,587.4h0M605.5,623.7h0M664.1,589.2h0M632.4,616.0h0M640.9,615.9h0M593.1,592.2h0M606.8,608.2h0M656.8,654.1h0M628.6,586.1h0M583.8,642.8h0M589.1,590.3h0M702.6,631.3h0M694.5,589.9h0M603.4,583.0h0M618.9,616.7h0M616.4,624.9h0M590.4,669.3h0M626.7,586.4h0M669.8,621.5h0M689.5,640.9h0M666.2,663.5h0M704.1,601.4h0M589.1,624.7h0M652.0,592.8h0M618.8,588.3h0M688.7,663.0h0M641.2,594.0h0M692.3,667.8h0M575.4,621.0h0M657.6,589.8h0M648.3,616.0h0M584.3,633.8h0M632.7,648.8h0M622.5,646.4h0M668.6,620.0h0M643.1,654.4h0M625.6,585.0h0M601.0,583.5h0M604.9,630.3h0M567.9,613.8h0M636.0,600.6h0M555.5,589.6h0M568.9,670.5h0M587.7,657.8h0M607.8,639.4h0M587.9,662.1h0M688.7,597.8h0M554.3,649.6h0M624.6,661.7h0M643.2,637.8h0M696.9,591.7h0M654.8,590.0h0M660.6,587.9h0M587.1,609.0h0M620.0,595.8h0M587.9,668.6h0M560.0,614.0h0M613.6,638.7h0M573.8,594.3h0M655.3,622.6h0M691.0,594.8h0M634.3,642.4h0M670.7,658.4h0M563.1,605.3h0M687.5,605.8h0M647.9,669.5h0M668.4,612.4h0M646.5,659.2h0M553.9,670.9h0M647.2,648.1h0M610.9,611.8h0M556.2,647.5h0M684.3,587.3h0M688.5,628.1h0M612.2,602.3h0M635.8,608.2h0M564.3,630.9h0M703.0,631.4h0M614.0,600.8h0M692.0,616.6h0M630.1,594.3h0M695.3,624.4h0M691.9,634.3h0M591.2,650.0h0M620.8,651.3h0M567.3,600.2h0M567.2,596.9h0M571.9,645.8h0M638.3,604.7h0M554.3,647.8h0M667.5,612.5h0M692.2,607.5h0M685.4,593.7h0M611.9,671.3h0M546.2,668.3h0M681.6,642.3h0M679.2,643.7h0M662.4,628.0h0M643.7,654.7h0M668.7,658.5h0M631.1,625.5h0M583.9,657.8h0M607.2,640.8h0M589.5,582.4h0M638.4,649.9h0M616.7,644.6h0M587.4,658.8h0M562.9,623.6h0M673.7,625.3h0M645.1,658.3h0M659.8,659.8h0M578.0,587.6h0M561.9,615.5h0M581.0,581.8h0M593.7,648.5h0M655.6,601.5h0M617.7,619.1h0M618.5,652.1h0M612.2,642.2h0M686.4,647.2h0M576.3,611.6h0M654.4,652.3h0M630.8,658.8h0M561.1,637.2h0M568.9,608.0h0M569.7,620.6h0M558.7,595.3h0M621.9,655.4h0M692.1,637.4h0M573.1,620.7h0M676.8,602.6h0M675.8,588.0h0M580.9,642.7h0M561.0,648.7h0M595.2,643.9h0M628.5,589.1h0M691.6,640.0h0M627.6,624.7h0M570.0,607.1h0M557.3,643.5h0M592.2,589.9h0M694.1,608.3h0M601.0,668.4h0M600.5,600.7h0M598.2,644.6h0M684.6,586.9h0M625.9,613.4h0M680.5,633.9h0M650.4,638.1h0M613.8,593.6h0M685.7,609.7h0M641.9,635.8h0M616.9,649.0h0M556.7,589.0h0M591.2,641.9h0M618.6,596.4h0M574.2,625.2h0M661.6,623.6h0M609.9,605.0h0M615.5,637.9h0M650.8,603.9h0M669.8,609.7h0M553.2,627.5h0M629.6,585.7h0M703.3,654.0h0M618.5,584.5h0M576.5,672.1h0M585.4,587.5h0M678.9,653.5h0M572.9,606.3h0M573.9,647.7h0M691.0,632.8h0M637.1,607.5h0M587.3,623.6h0M558.8,604.3h0M664.4,636.0h0M608.4,610.7h0M682.0,654.2h0M569.8,582.3h0M582.3,582.0h0M582.3,600.4h0M578.8,666.3h0M623.5,661.7h0M655.8,588.8h0M620.1,631.7h0M663.9,613.4h0M629.0,658.7h0M635.0,637.2h0M595.6,607.2h0M641.6,640.8h0M616.9,633.0h0M562.2,667.0h0M625.3,608.6h0M588.9,596.4h0M690.7,588.8h0M656.5,639.0h0M616.3,605.2h0M623.1,595.2h0M660.6,625.4h0M668.5,669.5h0M553.0,628.0h0M598.6,644.5h0M644.0,638.0h0M693.1,646.6h0M658.0,602.7h0M582.1,626.8h0M660.8,651.9h0M695.4,622.3h0M703.7,611.3h0M682.7,595.0h0M673.7,657.7h0M630.5,642.9h0M624.5,626.9h0M596.7,627.5h0M576.3,666.9h0M593.5,656.2h0M621.8,611.7h0M603.8,581.5h0M695.8,614.1h0M592.6,639.4h0M564.7,629.7h0M568.9,653.7h0M615.9,652.0h0M552.9,663.9h0M547.0,609.7h0M690.6,665.0h0M703.0,632.5h0M559.1,620.8h0M584.8,620.4h0M583.8,673.2h0M629.3,643.4h0M628.9,615.2h0M550.7,592.6h0M547.6,643.6h0M583.1,610.4h0M579.3,659.9h0M637.9,608.3h0M651.6,586.1h0M679.1,636.1h0M583.3,587.4h0M622.8,663.0h0M557.7,607.2h0M690.5,644.1h0M601.3,613.2h0M581.8,629.0h0M550.9,662.5h0M614.0,599.4h0M697.1,613.6h0M590.3,653.4h0M553.4,623.7h0M647.6,614.5h0M594.1,637.4h0M623.6,644.1h0M694.0,638.7h0M671.6,647.0h0M612.3,595.9h0M655.3,611.7h0M550.1,583.6h0M602.9,621.6h0M690.3,646.0h0M703.3,598.4h0M643.0,646.8h0M678.3,607.9h0M663.2,611.1h0M598.5,671.5h0M620.9,633.2h0M587.7,588.5h0M624.9,620.3h0M605.1,651.4h0M565.5,669.4h0M665.0,631.9h0M637.6,592.1h0M662.2,613.7h0M580.3,643.0h0M589.5,581.7h0M582.3,648.8h0M638.3,609.3h0M642.0,627.5h0M645.8,619.0h0M654.5,617.1h0M573.0,614.5h0M630.8,667.5h0M599.9,617.3h0M625.3,650.9h0M689.9,636.0h0M643.0,669.5h0M569.8,600.1h0M553.6,581.6h0M586.9,626.9h0M635.0,643.7h0M637.6,640.2h0M676.8,590.4h0M683.7,658.2h0M657.5,616.1h0M667.6,646.8h0M701.6,597.8h0M662.0,617.1h0M654.7,606.6h0M578.5,601.9h0M614.0,663.8h0M691.7,605.6h0M656.6,598.5h0M572.6,604.5h0M572.4,644.0h0M592.3,604.9h0M564.2,621.9h0M621.0,662.9h0M604.5,662.8h0M614.2,584.4h0M612.3,615.6h0M697.5,644.9h0M633.7,636.5h0M552.9,588.2h0M677.5,632.9h0M562.0,604.5h0M568.8,650.0h0M572.5,638.5h0M661.4,648.7h0M613.2,616.4h0M646.3,589.1h0M637.9,654.1h0M585.7,616.2h0M612.8,666.6h0M590.2,613.2h0M571.5,617.6h0M641.0,616.9h0M634.3,597.7h0M625.1,599.7h0M678.9,640.5h0M583.9,639.5h0M593.4,624.8h0M645.7,662.3h0M631.5,633.2h0M569.1,644.2h0M624.1,623.0h0M574.0,669.6h0M568.7,649.5h0M579.0,646.5h0M651.4,593.6h0M658.2,595.6h0M703.6,666.5h0M670.4,647.3h0M646.5,666.7h0M658.8,667.5h0M562.8,644.4h0M670.3,648.3h0M624.0,617.9h0M673.4,593.9h0M695.5,588.0h0M606.5,624.4h0M585.6,654.8h0M575.0,655.4h0M581.8,663.7h0M762.3,672.2h0M751.2,631.8h0M750.4,670.4h0M727.6,644.4h0M736.3,643.3h0M730.3,597.3h0M777.4,604.0h0M747.3,593.7h0M738.8,592.5h0M786.7,643.1h0M764.7,650.7h0M708.1,607.5h0M742.4,661.6h0M713.9,583.1h0M766.8,623.2h0M748.6,614.7h0M717.4,657.2h0M789.7,604.1h0M753.5,659.0h0M747.4,669.4h0M724.2,660.3h0M756.9,650.6h0M749.8,584.5h0M789.5,639.1h0M743.8,639.5h0M771.5,648.2h0M721.8,626.6h0M722.4,668.9h0M774.3,658.2h0M707.1,597.8h0M765.3,614.1h0M771.5,633.3h0M705.2,606.0h0M763.1,633.2h0M778.9,639.9h0M717.9,656.8h0M734.2,645.4h0M768.4,632.9h0M714.9,631.8h0M745.1,608.1h0M742.0,603.3h0M733.2,593.0h0M740.7,592.6h0M748.1,586.6h0M705.6,609.0h0M776.8,597.9h0M785.5,610.5h0M726.0,661.1h0M761.6,667.8h0M721.8,625.7h0M748.1,599.3h0M728.0,601.0h0M746.2,584.5h0M786.7,628.4h0M743.8,645.7h0M739.4,634.9h0M763.0,620.5h0M734.6,640.2h0M746.2,626.8h0M787.2,599.5h0M716.8,654.4h0M722.8,603.2h0M764.8,585.0h0M750.0,632.5h0M733.1,585.3h0M707.3,640.1h0M745.2,630.4h0M776.6,629.3h0M783.3,584.7h0M744.9,588.8h0M754.4,666.3h0M741.4,598.6h0M753.3,670.5h0M776.8,658.2h0M729.9,605.9h0M733.3,595.5h0M707.3,648.9h0M774.7,658.4h0M731.1,605.8h0M707.4,605.0h0M729.5,631.1h0M781.1,667.5h0M713.0,615.7h0M753.1,607.3h0M737.9,624.4h0M765.6,619.9h0M770.7,608.8h0M759.6,649.4h0M734.3,663.0h0M739.6,593.5h0M754.9,665.7h0M787.3,619.0h0M734.0,615.2h0M719.2,609.2h0M722.7,584.4h0M770.9,588.0h0M779.4,630.6h0M730.5,663.6h0M767.9,627.1h0M746.8,621.1h0M751.4,630.5h0M733.9,638.0h0M721.2,608.3h0M730.4,631.3h0M715.3,663.7h0M768.5,664.5h0M733.5,627.6h0M729.8,633.2h0M784.6,628.6h0M788.7,638.6h0M776.9,639.1h0M779.6,610.6h0M753.5,600.2h0M745.5,599.9h0M772.7,659.6h0M773.1,611.9h0M781.8,605.3h0M753.2,586.3h0M772.8,663.3h0M762.9,656.1h0M754.9,657.4h0M724.4,631.8h0M731.4,659.1h0M771.3,619.4h0M786.8,595.1h0M707.5,613.8h0M718.2,668.1h0M765.8,601.1h0M743.8,604.5h0M759.5,610.6h0M742.2,646.9h0M752.7,598.8h0M753.9,625.1h0M768.7,634.7h0M720.4,613.0h0M722.5,660.9h0M744.8,650.0h0M756.3,656.2h0M769.8,587.4h0M782.8,608.1h0M778.8,656.9h0M772.0,629.5h0M747.9,593.6h0M716.4,612.3h0M775.2,610.5h0M784.8,583.4h0M779.2,633.6h0M772.4,622.3h0M734.8,651.5h0M784.7,644.8h0M768.4,643.0h0M771.8,632.4h0M727.0,653.0h0M713.1,639.4h0M779.4,599.2h0M727.1,625.8h0M717.7,601.6h0M714.9,640.4h0M764.4,603.3h0M758.6,608.5h0M788.2,618.6h0M733.0,662.5h0M713.5,627.8h0M726.8,623.2h0M772.4,671.1h0M776.7,666.7h0M712.5,635.0h0M719.8,613.7h0M705.8,618.3h0M865.8,605.1h0M850.3,654.1h0M818.9,638.0h0M869.7,619.6h0M875.5,591.3h0M847.8,672.4h0M862.9,642.2h0M802.4,628.1h0M804.4,638.7h0M794.7,620.2h0M865.6,648.8h0M837.6,629.2h0M807.1,644.9h0M829.2,659.3h0M810.4,637.4h0M841.1,589.4h0M823.3,637.2h0M836.7,606.0h0M873.3,662.9h0M800.3,661.1h0M845.7,637.0h0M812.6,588.5h0M834.8,655.3h0M874.4,598.9h0M839.9,635.9h0M790.5,644.5h0M815.9,589.7h0M804.9,638.6h0M793.7,598.7h0M821.3,651.2h0M846.8,634.8h0M872.9,594.5h0M855.4,592.6h0M814.0,658.4h0M821.5,603.6h0M793.0,621.1h0M807.7,611.1h0M826.9,638.3h0M818.9,637.4h0M839.8,601.2h0M866.2,600.6h0M862.8,626.2h0M804.3,667.6h0M848.1,617.7h0M823.0,597.9h0M856.3,661.0h0M847.4,667.5h0M855.3,634.0h0M804.6,583.0h0M867.5,618.1h0M822.6,640.3h0M807.3,643.9h0M867.6,643.4h0M803.7,673.3h0M845.5,583.9h0M835.5,625.1h0M823.3,583.3h0M820.9,591.9h0M848.3,649.9h0M800.1,639.1h0M832.1,670.7h0M835.5,584.3h0M806.9,598.7h0M799.4,666.1h0M832.6,633.2h0M865.4,649.2h0M791.9,581.5h0M853.2,584.3h0M835.1,615.6h0M836.7,669.1h0M810.1,594.4h0M799.0,617.4h0M808.2,589.0h0M814.4,635.4h0M810.3,631.3h0M806.4,582.3h0M866.7,639.9h0M834.0,612.0h0M793.4,594.0h0M818.9,632.5h0M803.5,657.8h0M805.9,597.1h0M834.5,640.1h0M831.2,592.5h0M852.6,587.6h0M852.3,583.4h0M859.5,617.3h0M837.1,599.5h0M871.1,608.0h0M848.5,667.3h0M841.3,642.4h0M798.9,612.2h0M850.8,670.6h0M828.3,624.8h0M799.2,640.7h0M804.5,662.4h0M857.9,613.4h0M805.3,592.7h0M804.7,656.9h0M864.7,672.3h0M805.4,664.0h0M834.7,659.2h0M813.3,641.4h0M865.3,650.3h0M829.8,585.5h0M793.2,633.3h0M825.8,620.1h0M845.5,613.9h0M857.7,587.5h0M853.3,639.3h0M845.1,672.1h0M827.1,669.6h0M799.7,617.4h0M839.4,630.6h0M843.1,624.7h0M858.8,655.0h0M798.7,634.3h0M807.0,615.7h0M813.6,589.1h0M834.5,638.4h0M852.7,658.4h0M827.3,623.7h0M865.7,669.2h0M835.5,607.9h0M843.9,659.4h0M833.8,670.7h0M844.4,616.1h0M816.1,670.1h0M831.3,661.2h0M791.9,637.0h0M809.2,673.4h0M869.1,631.7h0M871.9,621.8h0M874.1,673.0h0M864.7,651.5h0M845.4,672.1h0M855.6,594.3h0M813.5,622.0h0M797.2,624.5h0M853.9,592.2h0" stroke-width="1.0"/><path d="M645.0,649.7h0M695.8,649.6h0M550.6,624.3h0M590.4,665.8h0M697.9,599.6h0M602.4,629.8h0M563.2,650.4h0M682.7,584.9h0M692.0,612.8h0M618.1,673.4h0M589.3,653.4h0M603.5,653.8h0M656.4,642.6h0M675.9,641.1h0M601.3,640.8h0M677.7,613.7h0M572.4,658.5h0M662.1,597.3h0M568.4,639.4h0M592.6,653.4h0M648.5,637.1h0M586.1,623.4h0M678.0,587.6h0M637.5,649.8h0M641.4,626.5h0M583.3,615.7h0M672.6,584.2h0M554.5,595.4h0M700.7,642.7h0M678.1,641.1h0M640.2,634.2h0M578.2,585.1h0M584.2,643.3h0M547.0,587.1h0M560.9,588.1h0M692.5,636.5h0M645.4,648.3h0M594.9,622.8h0M559.9,652.6h0M612.9,610.4h0M675.9,641.8h0M616.9,667.8h0M564.8,610.7h0M635.4,614.3h0M702.2,658.8h0M689.1,599.8h0M597.5,644.3h0M702.2,656.5h0M659.9,588.1h0M652.5,669.5h0M655.3,658.6h0M588.6,638.7h0M572.6,639.7h0M678.0,662.3h0M681.2,640.9h0M582.4,645.6h0M643.9,591.2h0M663.1,656.6h0M659.4,666.5h0M624.8,670.1h0M557.5,651.4h0M602.3,649.3h0M593.1,612.5h0M674.9,582.0h0M551.7,583.7h0M611.7,661.9h0M548.9,657.7h0M665.9,615.8h0M617.6,641.7h0M594.0,596.8h0M558.3,622.8h0M630.1,617.3h0M593.6,632.3h0M589.8,653.6h0M547.5,585.5h0M639.6,592.3h0M619.2,641.2h0M680.1,592.6h0M666.6,628.9h0M624.5,630.8h0M574.6,668.3h0M627.3,667.4h0M620.1,591.0h0M692.1,611.5h0M617.0,638.5h0M647.6,626.5h0M650.2,651.1h0M624.6,581.6h0M578.2,671.1h0M615.1,609.7h0M605.3,636.4h0M555.0,582.8h0M549.9,654.7h0M572.4,669.2h0M682.8,644.3h0M684.4,665.9h0M547.0,632.1h0M678.6,611.5h0M555.3,636.9h0M597.0,660.3h0M619.4,590.5h0M591.4,605.8h0M563.3,651.0h0M656.3,628.4h0M679.8,638.5h0M645.4,591.7h0M604.9,653.6h0M695.5,617.4h0M704.5,593.5h0M573.6,619.4h0M591.5,584.8h0M638.4,627.8h0M643.3,596.4h0M704.3,649.6h0M547.7,609.5h0M681.3,648.6h0M698.2,626.3h0M638.9,607.4h0M640.1,646.4h0M582.4,607.4h0M644.6,587.1h0M698.1,589.3h0M649.6,631.2h0M643.9,645.8h0M613.8,665.5h0M666.2,612.2h0M635.3,586.0h0M652.1,633.8h0M569.7,610.4h0M684.9,610.7h0M659.9,649.3h0M618.1,610.1h0M621.6,609.8h0M556.9,589.3h0M553.3,663.3h0M574.8,622.5h0M689.2,626.8h0M567.3,668.7h0M701.9,611.2h0M679.1,667.5h0M588.5,619.4h0M640.9,650.7h0M577.2,649.5h0M643.8,625.3h0M563.9,584.9h0M573.1,662.8h0M696.5,621.9h0M648.4,607.9h0M675.7,650.3h0M607.5,593.6h0M633.2,637.4h0M650.3,626.6h0M597.9,613.8h0M654.0,620.7h0M550.2,630.8h0M685.8,599.3h0M654.7,588.0h0M569.2,599.0h0M576.5,664.7h0M654.2,605.9h0M638.5,630.0h0M688.2,637.5h0M589.1,615.0h0M629.1,605.0h0M588.4,660.3h0M693.8,602.4h0M632.0,605.3h0M546.8,624.5h0M641.8,673.4h0M619.2,627.1h0M651.6,626.4h0M705.0,673.1h0M678.5,641.3h0M691.1,621.6h0M650.4,661.3h0M584.7,604.2h0M704.6,636.4h0M557.9,594.9h0M619.6,602.9h0M597.8,624.6h0M676.3,613.2h0M682.7,639.5h0M771.4,617.2h0M740.4,603.6h0M756.4,609.2h0M769.6,612.7h0M741.0,645.1h0M717.9,615.4h0M708.5,669.1h0M713.3,600.2h0M748.1,650.4h0M716.8,650.2h0M730.7,617.0h0M716.0,668.3h0M742.2,597.2h0M771.5,673.0h0M723.6,611.4h0M746.5,664.6h0M718.9,642.0h0M711.2,588.3h0M738.4,670.8h0M709.8,664.6h0M769.7,608.5h0M787.8,586.6h0M763.5,628.3h0M715.7,623.8h0M774.0,659.1h0M731.9,594.2h0M772.8,657.2h0M768.5,658.2h0M764.0,612.1h0M759.3,601.7h0M775.6,625.1h0M744.4,603.4h0M734.1,603.7h0M737.3,638.3h0M748.0,658.2h0M739.0,598.9h0M763.4,641.0h0M755.1,626.0h0M714.2,593.8h0M710.2,618.6h0M711.9,665.3h0M716.2,654.0h0M766.0,587.9h0M749.4,603.6h0M723.4,618.2h0M763.0,658.7h0M775.6,641.0h0M718.8,634.5h0M781.4,585.0h0M720.6,650.8h0M705.6,592.7h0M708.6,666.4h0M742.7,618.3h0M767.6,586.0h0M712.9,616.7h0M764.2,650.6h0M721.1,648.7h0M788.3,672.9h0M748.0,663.7h0M747.7,640.8h0M785.6,610.1h0M732.4,613.6h0M787.9,628.2h0M711.7,607.1h0M714.1,582.6h0M786.9,585.1h0M754.2,600.6h0M767.9,584.5h0M753.5,600.3h0M750.4,617.3h0M708.3,666.2h0M788.2,624.9h0M748.2,584.7h0M852.5,645.9h0M874.0,612.9h0M807.5,664.3h0M871.6,671.8h0M855.3,589.1h0M843.6,640.6h0M853.3,655.5h0M811.4,653.6h0M868.8,595.6h0M834.0,590.8h0M859.1,588.1h0M844.4,630.6h0M834.5,604.7h0M808.4,669.8h0M850.9,598.4h0M873.5,657.5h0M865.8,649.4h0M810.6,612.8h0M874.9,604.8h0M828.5,662.3h0M872.0,596.2h0M801.6,654.3h0M871.8,669.3h0M829.8,662.4h0M861.5,605.4h0M859.3,603.1h0M810.7,661.1h0M811.0,621.8h0M827.4,673.2h0M831.4,635.3h0M844.1,644.9h0M853.9,623.6h0M857.6,594.3h0M836.9,616.8h0M797.2,640.6h0M843.0,590.4h0M793.3,658.6h0M841.8,603.9h0M810.3,586.8h0M797.1,658.5h0M875.8,591.8h0M797.2,591.7h0M832.0,620.4h0M828.8,585.7h0M851.9,659.8h0M854.9,604.5h0M869.3,597.3h0" stroke-width="1.5"/><path d="M684.3,644.8h0M612.1,610.9h0M588.6,595.7h0M550.1,648.0h0M648.7,621.1h0M688.5,603.5h0M554.4,601.6h0M691.5,616.3h0M670.2,620.3h0M570.2,629.2h0M622.0,635.0h0M695.0,668.9h0M589.3,632.2h0M661.9,590.9h0M549.2,662.9h0M683.6,647.2h0M546.5,605.4h0M638.6,636.6h0M644.7,660.0h0M671.7,635.6h0M651.6,640.6h0M584.6,615.4h0M619.7,600.8h0M562.9,610.6h0M603.6,658.4h0M577.0,652.9h0M556.1,646.0h0M715.7,662.0h0M730.0,622.4h0M745.7,638.1h0M716.8,635.7h0M743.5,630.4h0M716.3,589.1h0M747.1,582.5h0M721.7,631.5h0M796.0,664.1h0M803.9,585.0h0M865.2,590.4h0M828.8,669.2h0M849.2,662.6h0M807.6,605.1h0M870.5,606.1h0M836.6,595.1h0M815.1,596.9h0M872.3,588.9h0M826.0,652.6h0M863.6,663.6h0M802.2,649.3h0" stroke-width="2.5"/></g>
    <g clip-path="url(#d2clip)"><path d="M557.5,582.0 557.2,586.1 553.0,588.7 548.5,588.8 544.5,589.1 539.8,588.0 538.5,584.4 539.5,580.7 542.2,577.4 546.9,576.6 550.8,577.7 554.6,579.0ZM588.5,583.4 588.6,588.3 584.1,591.4 579.9,592.8 575.6,593.9 571.0,592.7 568.6,588.8 568.8,584.3 571.5,580.4 576.0,578.7 580.3,579.3 584.4,580.5ZM619.8,580.8 620.1,582.4 619.0,584.2 616.7,585.2 613.9,585.7 611.9,584.5 611.5,582.7 611.5,581.0 612.9,579.4 615.0,578.2 617.9,577.4 619.8,578.9ZM652.9,583.1 653.1,587.6 649.6,591.4 645.7,594.2 640.3,597.5 634.6,596.0 633.5,591.0 633.7,586.8 635.6,582.7 639.7,579.4 645.3,577.5 650.4,579.2ZM672.1,584.4 670.9,586.2 668.6,587.4 665.5,586.5 663.4,584.3 662.9,582.0 663.1,580.0 664.0,577.8 666.7,577.1 669.5,578.4 671.9,580.1 672.9,582.4ZM698.5,577.2 700.0,580.3 699.4,584.0 696.1,586.1 692.7,586.5 689.6,586.1 686.6,584.5 685.0,581.2 686.7,577.7 689.7,575.7 692.9,574.4 696.3,574.8ZM725.7,585.6 724.9,589.5 721.4,592.9 715.8,593.9 710.7,593.0 706.2,591.3 703.2,587.9 704.1,583.6 709.3,581.1 714.3,580.3 719.8,579.6 724.7,581.6ZM746.5,580.7 748.4,585.2 745.8,589.7 741.5,592.0 737.1,593.7 732.7,592.5 730.1,589.3 727.6,585.2 729.4,580.3 734.4,578.3 738.7,577.5 743.1,578.0ZM773.6,582.6 776.3,585.9 775.5,590.8 771.2,593.8 766.4,595.9 761.5,595.3 759.2,591.3 758.6,587.4 758.9,583.0 761.8,578.6 767.2,576.5 771.4,579.3ZM805.3,589.3 802.8,593.2 798.2,594.5 793.9,593.5 789.0,592.4 785.4,588.1 787.2,583.0 790.6,579.8 794.7,578.2 799.2,578.2 804.0,579.8 806.6,584.4ZM824.3,583.1 824.3,586.3 821.3,588.6 817.6,589.9 813.5,590.1 811.0,587.7 809.7,585.2 809.0,582.1 811.9,579.5 816.0,578.7 819.8,578.7 822.7,580.5ZM841.5,578.9 842.0,580.9 841.1,583.2 839.0,584.8 836.5,585.5 834.3,584.8 832.8,583.4 831.9,581.5 832.9,579.1 835.3,577.8 837.7,577.1 840.0,577.4ZM864.0,581.0 864.7,584.8 862.0,588.5 859.1,591.9 854.5,595.2 850.1,593.8 848.1,590.8 846.5,587.6 848.3,583.5 852.1,580.5 856.6,578.2 861.1,578.6ZM885.8,585.0 884.7,589.0 881.0,591.2 877.3,592.3 873.0,592.2 870.3,589.1 868.7,585.4 868.9,581.1 872.9,578.9 876.9,578.6 880.9,578.6 884.4,581.0ZM557.8,666.0 558.4,670.5 555.5,674.6 552.2,677.8 547.8,680.8 542.9,680.2 540.5,676.9 538.7,673.3 540.2,668.7 544.8,666.0 549.1,664.4 554.0,663.7ZM572.4,673.3 572.0,675.8 569.9,677.4 567.4,677.6 565.0,676.9 564.1,674.6 563.5,672.6 563.0,669.7 565.4,668.0 568.1,668.7 570.2,669.3 571.9,670.9ZM593.0,665.7 595.5,669.0 592.6,672.9 587.7,674.5 583.1,675.6 579.1,674.3 577.3,671.4 576.5,667.9 578.9,664.2 583.0,661.6 588.1,660.6 591.1,663.2ZM613.8,669.1 613.3,672.5 611.3,676.5 606.3,677.4 601.6,675.8 598.6,672.5 598.0,668.6 599.3,665.0 602.6,662.5 606.9,660.9 612.4,660.9 615.1,665.0ZM631.7,674.9 631.7,677.5 629.0,678.7 626.2,677.6 624.2,676.6 622.2,675.1 621.7,672.8 622.7,670.6 625.1,669.5 627.8,669.8 630.0,671.0 631.1,672.9ZM644.0,672.4 644.1,675.7 641.2,678.0 637.6,677.6 634.2,677.0 631.4,674.7 631.5,671.4 632.9,668.6 635.1,666.3 638.6,665.3 642.2,666.4 643.7,669.5ZM673.1,671.0 672.2,674.6 668.1,677.1 662.3,675.0 657.7,671.9 655.1,668.0 656.5,664.6 658.3,661.6 662.1,659.2 668.0,660.4 672.8,663.6 674.4,667.8ZM690.7,675.0 689.3,676.8 687.2,677.9 684.6,677.9 682.2,676.6 681.4,674.2 681.5,671.8 682.5,669.5 685.1,669.0 687.5,669.4 690.1,670.1 691.5,672.5ZM712.2,665.1 713.4,668.8 712.1,673.4 706.9,675.5 702.4,676.5 697.0,676.9 694.2,673.4 694.6,669.0 696.9,665.1 700.8,662.2 705.7,660.0 710.7,661.0ZM730.4,668.9 729.9,672.3 727.7,675.2 724.2,677.2 719.8,677.2 717.5,673.9 717.0,670.8 715.9,667.4 717.8,663.7 722.1,663.0 726.0,663.7 729.2,665.6ZM747.7,675.9 745.5,678.2 742.3,679.0 738.8,678.6 734.8,677.0 734.1,673.1 735.8,670.0 737.6,667.2 741.0,666.6 744.3,667.6 748.3,668.9 749.7,672.7ZM771.2,675.3 769.8,676.8 767.6,677.3 765.4,676.8 763.0,675.8 761.4,673.6 762.0,671.4 763.9,670.1 766.1,669.8 768.3,669.9 770.9,670.8 772.1,673.2ZM805.7,668.3 806.0,672.5 802.3,675.8 796.7,675.8 792.1,674.1 789.1,671.1 787.4,667.4 788.1,663.2 792.5,660.9 797.5,660.2 802.8,660.9 805.4,664.6ZM835.2,662.8 836.8,667.0 834.3,671.7 829.3,673.8 825.1,675.3 819.4,676.8 815.6,673.7 816.3,668.7 818.9,664.7 822.3,661.3 827.1,659.2 832.0,659.8ZM853.0,668.6 853.4,672.2 851.1,675.6 846.9,677.6 842.3,677.6 839.7,674.7 837.8,672.1 835.8,668.3 839.2,665.0 843.8,664.3 848.1,663.4 851.8,665.2ZM867.5,671.3 868.0,673.4 867.1,675.7 864.8,677.3 862.0,678.1 859.8,677.1 858.7,675.4 857.8,673.4 858.7,671.0 861.3,669.6 863.9,668.9 866.4,669.5ZM885.0,675.6 881.6,677.7 877.4,678.2 872.9,676.8 868.6,674.1 865.9,670.0 866.6,666.0 869.9,663.7 874.5,663.8 878.8,665.4 883.5,667.6 886.6,671.9Z" fill="#005094" stroke="#005094" stroke-width="2.4" stroke-linejoin="round"/></g>
    <path d="M555.3,612.8 561.3,613.9 567.4,615.4 573.4,616.7 579.4,617.5 585.5,617.7 591.5,617.2 597.6,616.2 603.6,614.5 609.6,612.4 615.7,610.0 621.7,607.4 627.8,604.8 633.8,602.4 639.8,600.2 645.9,598.5 651.9,597.3 657.9,596.6 664.0,596.5 670.0,597.0 676.1,597.9 682.1,599.3 688.1,601.1 694.2,603.2 700.2,606.0 694.2,605.8 688.1,605.1 682.1,604.4 676.1,603.9 670.0,603.8 664.0,604.0 657.9,604.6 651.9,605.7 645.9,607.3 639.8,609.2 633.8,611.5 627.8,614.0 621.7,616.6 615.7,619.0 609.6,621.2 603.6,623.0 597.6,624.2 591.5,624.7 585.5,624.4 579.4,623.4 573.4,621.7 567.4,619.4 561.3,616.5ZM722.0,619.5 728.1,619.8 734.2,620.6 740.3,621.3 746.4,621.7 752.5,621.6 758.6,621.1 764.7,620.2 770.8,618.8 776.9,617.0 783.0,614.9 789.1,612.7 795.2,610.4 801.4,608.2 807.5,606.3 813.6,604.6 819.7,603.4 825.8,602.6 831.9,602.3 838.0,602.6 844.1,603.3 850.2,604.5 856.3,606.0 862.4,607.9 868.5,610.5 862.4,610.5 856.3,610.0 850.2,609.5 844.1,609.3 838.0,609.3 831.9,609.8 825.8,610.6 819.7,611.8 813.6,613.4 807.5,615.3 801.4,617.4 795.2,619.6 789.1,621.8 783.0,623.9 776.9,625.7 770.8,627.2 764.7,628.1 758.6,628.6 752.5,628.4 746.4,627.7 740.3,626.4 734.2,624.6 728.1,622.4ZM628.2,640.2 634.3,637.4 640.4,635.2 646.4,633.5 652.5,632.2 658.6,631.4 664.7,631.1 670.7,631.4 676.8,632.2 682.9,633.4 689.0,635.1 695.0,637.1 701.1,639.2 707.2,641.4 713.2,643.5 719.3,645.4 725.4,647.0 731.5,648.2 737.5,649.0 743.6,649.4 749.7,649.3 755.8,648.9 761.9,648.3 767.9,647.5 774.0,647.2 767.9,650.0 761.9,652.2 755.8,653.9 749.7,655.2 743.6,656.0 737.5,656.3 731.5,656.0 725.4,655.2 719.3,654.0 713.2,652.3 707.2,650.3 701.1,648.2 695.0,646.0 689.0,643.9 682.9,642.0 676.8,640.4 670.7,639.2 664.7,638.4 658.6,638.0 652.5,638.1 646.4,638.5 640.4,639.1 634.3,639.9Z" fill="#55b032"/>
    <g font-size="16.6" fill="#15569b"><text x="549" y="696" font-weight="bold" textLength="129.5" lengthAdjust="spacingAndGlyphs">Diesel Reiniger</text><text x="684" y="696" textLength="64" lengthAdjust="spacingAndGlyphs">zersetzt</text><path d="M683.5,700.8H748" stroke="#15569b" stroke-width="1.1"/><text x="753.6" y="696" textLength="118.5" lengthAdjust="spacingAndGlyphs">Ablagerungen</text></g>
    <path d="M696.3,708 H725.7 L711,725.6 Z" fill="#c9171d"/>
  </g>
  <!-- diagram 3 -->
  <g id="dia3">
    <path d="M543.5,735.4H879.5" stroke="#005094" stroke-width="2.3"/>
    <path d="M543.5,838.4H879.5" stroke="#005094" stroke-width="1.7"/>
    <path d="M543.5,738.2 H879.5 V742.6 C820,743 760,743.5 711,744 C660,744.6 600,744.8 543.5,745 Z" fill="#b8ddac"/>
    <path d="M543.5,828 C600,828.6 660,830.4 711,830.6 C770,830.8 830,830 879.5,829 V835.6 H543.5 Z" fill="#b8ddac"/>
    <path d="M555.3,771.1 561.3,772.2 567.4,773.7 573.4,775.0 579.4,775.8 585.5,776.0 591.5,775.5 597.6,774.5 603.6,772.8 609.6,770.7 615.7,768.3 621.7,765.7 627.8,763.1 633.8,760.7 639.8,758.5 645.9,756.8 651.9,755.6 657.9,754.9 664.0,754.8 670.0,755.3 676.1,756.2 682.1,757.6 688.1,759.4 694.2,761.5 700.2,764.3 694.2,764.1 688.1,763.4 682.1,762.7 676.1,762.2 670.0,762.1 664.0,762.3 657.9,762.9 651.9,764.0 645.9,765.6 639.8,767.5 633.8,769.8 627.8,772.3 621.7,774.9 615.7,777.3 609.6,779.5 603.6,781.3 597.6,782.5 591.5,783.0 585.5,782.7 579.4,781.7 573.4,780.0 567.4,777.7 561.3,774.8ZM722.0,777.8 728.1,778.1 734.2,778.9 740.3,779.6 746.4,780.0 752.5,779.9 758.6,779.4 764.7,778.5 770.8,777.1 776.9,775.3 783.0,773.2 789.1,771.0 795.2,768.7 801.4,766.5 807.5,764.6 813.6,762.9 819.7,761.7 825.8,760.9 831.9,760.6 838.0,760.9 844.1,761.6 850.2,762.8 856.3,764.3 862.4,766.2 868.5,768.8 862.4,768.8 856.3,768.3 850.2,767.8 844.1,767.6 838.0,767.6 831.9,768.1 825.8,768.9 819.7,770.1 813.6,771.7 807.5,773.6 801.4,775.7 795.2,777.9 789.1,780.1 783.0,782.2 776.9,784.0 770.8,785.5 764.7,786.4 758.6,786.9 752.5,786.7 746.4,786.0 740.3,784.7 734.2,782.9 728.1,780.7ZM628.2,798.5 634.3,795.7 640.4,793.5 646.4,791.8 652.5,790.5 658.6,789.7 664.7,789.4 670.7,789.7 676.8,790.5 682.9,791.7 689.0,793.4 695.0,795.4 701.1,797.5 707.2,799.7 713.2,801.8 719.3,803.7 725.4,805.3 731.5,806.5 737.5,807.3 743.6,807.7 749.7,807.6 755.8,807.2 761.9,806.6 767.9,805.8 774.0,805.5 767.9,808.3 761.9,810.5 755.8,812.2 749.7,813.5 743.6,814.3 737.5,814.6 731.5,814.3 725.4,813.5 719.3,812.3 713.2,810.6 707.2,808.6 701.1,806.5 695.0,804.3 689.0,802.2 682.9,800.3 676.8,798.7 670.7,797.5 664.7,796.7 658.6,796.3 652.5,796.4 646.4,796.8 640.4,797.4 634.3,798.2Z" fill="#b8ddac"/>
    <g font-size="16.6" fill="#15569b"><text x="511.4" y="857.8" font-weight="bold" textLength="120.4" lengthAdjust="spacingAndGlyphs">Diesel Additiv</text><text x="637.8" y="857.8" textLength="272.6" lengthAdjust="spacingAndGlyphs">schützt vor neuen Ablagerungen</text></g>
  </g>
  <!--P2END-->
</g>


<!-- ===== bottle ===== -->
<g id="bottle" transform="translate(71.6,784) rotate(53)">
  <rect x="-4.3" y="-96" width="8.6" height="56" fill="#1a1a1a"/>
  <rect x="-2.6" y="-96" width="2" height="50" fill="#3a3a3a"/>
  <path d="M-6.4,-57 H6.4 V-46 H-6.4 Z" fill="#151515"/>
  <path d="M-8.5,-47 H8.5 L11,-41 H-11 Z" fill="#8d8f94"/>
  <rect x="-14.2" y="-42" width="28.4" height="84" rx="2.2" fill="url(#canRed)"/>
  <rect x="-14.2" y="-42" width="28.4" height="3" rx="1.5" fill="#d9d9dc"/>
  <!-- top stripes + oval logo -->
  <path d="M-14.2,-30 L14.2,-38 V-35 L-14.2,-27 Z" fill="#fff" opacity="0.85"/>
  <path d="M-14.2,-27 L14.2,-35 V-32.5 L-14.2,-24.5 Z" fill="#1d4f9c"/>
  <ellipse cx="0" cy="-28" rx="10.5" ry="6.6" fill="#c9171d" stroke="#fff" stroke-width="1" transform="rotate(-12 0 -28)"/>
  <path d="M-6,-27 L6,-29.5" stroke="#fff" stroke-width="2.2"/>
  <!-- DIESEL band -->
  <rect x="-13.6" y="-19" width="27.2" height="9.6" fill="#1d4f9c"/>
  <text x="-12.6" y="-11" font-size="9.2" font-weight="bold" fill="#fff" textLength="25.2" lengthAdjust="spacingAndGlyphs">DIESEL</text>
  <rect x="-13.6" y="-8.4" width="27.2" height="2.2" fill="#e9e9ee" opacity="0.8"/>
  <text x="-12.8" y="1.6" font-size="7.4" font-weight="bold" fill="#fff" textLength="25.6" lengthAdjust="spacingAndGlyphs">REINIGER</text>
  <rect x="-13.6" y="3.2" width="27.2" height="2" fill="#e9e9ee" opacity="0.75"/>
  <!-- picture -->
  <rect x="-14" y="7" width="28" height="25" fill="#7d7f88"/>
  <path d="M-14,10 L-4,7 L8,16 L14,12 V24 L4,32 H-8 L-14,26 Z" fill="#a9abb4"/>
  <path d="M-10,14 L-2,12 L2,20 L-6,24 Z" fill="#55575f"/>
  <path d="M4,22 L12,18 L13,28 L6,31 Z" fill="#4e5058"/>
  <circle cx="-1.5" cy="21" r="4.6" fill="#f2c21b"/>
  <circle cx="-1.5" cy="21" r="2" fill="#d9781c"/>
  <rect x="-14.2" y="33" width="28.4" height="4.4" fill="#1d4f9c"/>
  <rect x="-14.2" y="-42" width="28.4" height="84" rx="2.2" fill="url(#canShade)"/>
</g>

<!-- ===== logo ===== -->
<g id="logo">
  <g filter="url(#softShadow)" opacity="0.55">
    <ellipse cx="169.7" cy="900.2" rx="121" ry="78.4" transform="rotate(-12.2 169.7 899.2)" fill="#3a0a0a"/>
    <path d="M37.8,924.8 L50.5,911 L48.2,900 L56,909.5 L72.9,906.6 L58.5,916 L63.8,932.6 L54,919.5 Z" fill="#3a0a0a" stroke="#3a0a0a" stroke-width="11" stroke-linejoin="round"/>
  </g>
  <ellipse cx="169.7" cy="899.2" rx="121" ry="78.4" transform="rotate(-12.2 169.7 899.2)" fill="#c9171d"/>
  <!-- star bumps -->
  <g fill="#c9171d" stroke="#c9171d" stroke-width="11" stroke-linejoin="round">
    <path d="M37.8,924.8 L50.5,911 L48.2,900 L56,909.5 L72.9,906.6 L58.5,916 L63.8,932.6 L54,919.5 Z"/>
    <path d="M239.3,846.8 L247.5,839 L244.5,831.2 L251,837.5 L258.8,835.1 L252.5,841.5 L253.6,850.7 L249,843 Z"/>
  </g>
  <ellipse cx="169.7" cy="899.2" rx="113.8" ry="71.2" transform="rotate(-12.2 169.7 899.2)" fill="#c9171d" stroke="#fff" stroke-width="3.3"/>
  <g fill="#1d4f9c">
    <path d="M37.8,924.8 L50.8,912 L48.2,900 L54.8,910.8 L72.9,906.6 L57,915.5 L63.8,932.6 L53,917.8 Z"/>
    <path d="M239.3,846.8 L248,839.3 L244.5,831.2 L250.3,838.3 L258.8,835.1 L252,840.8 L253.6,850.7 L249.3,842.3 Z"/>
  </g>
  <g fill="#fff" stroke="#fff" stroke-width="1.1" stroke-linejoin="round" font-weight="bold">
    <text transform="matrix(0.984,-0.177,-0.345,0.94,82.4,903.6)" font-size="38.5" textLength="180" lengthAdjust="spacingAndGlyphs">ORIGINAL</text>
    <text transform="matrix(0.9864,-0.1644,-0.329,0.944,78.6,939)" font-size="45" textLength="169" lengthAdjust="spacingAndGlyphs">SYPRIN</text>
  </g>
  <g transform="translate(264,884.5)">
    <circle r="3.2" fill="none" stroke="#fff" stroke-width="0.9"/>
    <text x="-1.9" y="1.9" font-size="5.2" font-weight="bold" fill="#fff">R</text>
  </g>
</g>


</svg>
</body>
</html>
